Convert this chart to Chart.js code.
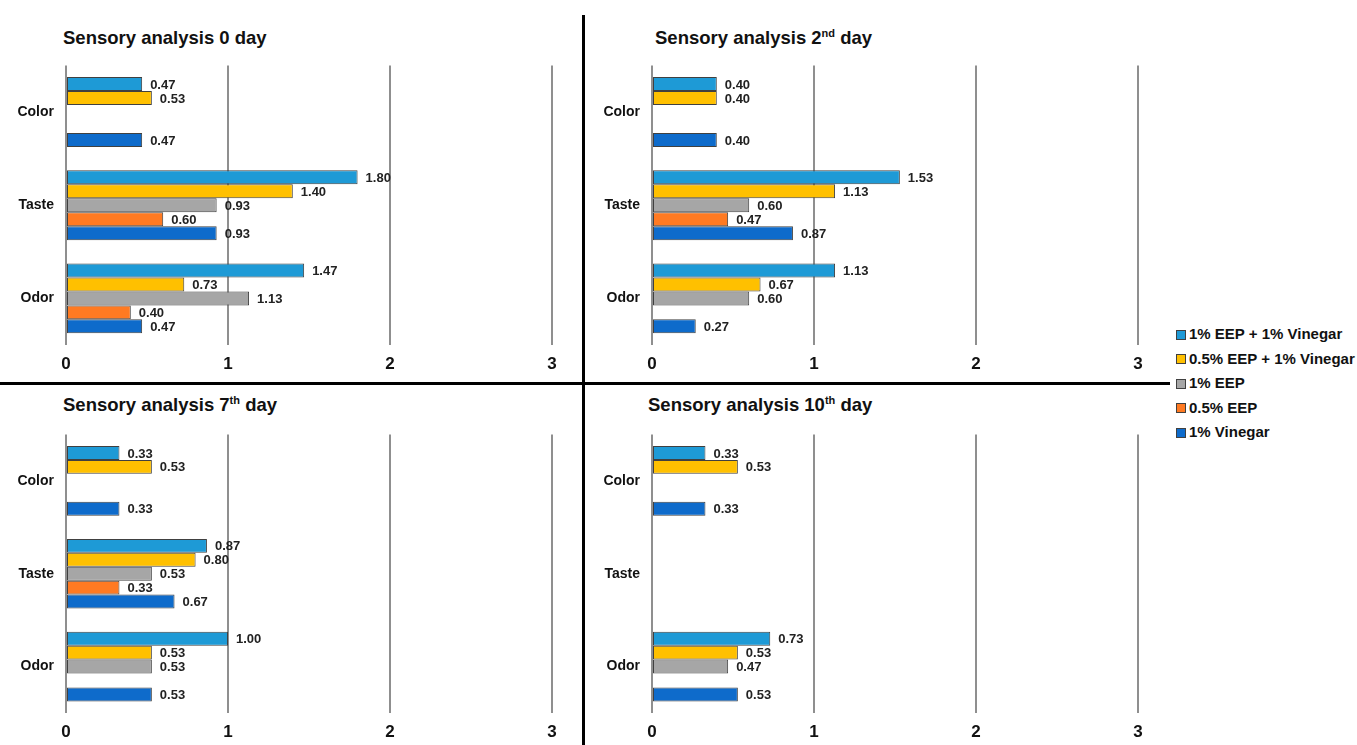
<!DOCTYPE html>
<html>
<head>
<meta charset="utf-8">
<script src="https://cdn.jsdelivr.net/npm/chart.js@4.4.1/dist/chart.umd.min.js"></script>
<style>
    body { margin: 0; width: 1357px; height: 745px; background: #fff; position: relative; overflow: hidden;
           font-family: "Liberation Sans", Arial, sans-serif; }
    .box { position: absolute; width: 575px; }
    .title { position: absolute; font-weight: bold; font-size: 18.5px; color: #111; white-space: nowrap; }
    .title sup { font-size: 11px; vertical-align: 7px; line-height: 0; }
    .vline { position: absolute; left: 582px; top: 15px; width: 3px; height: 730px; background: #000; }
    .hline { position: absolute; left: 0; top: 382px; width: 1170px; height: 3px; background: #000; }
    #legend { position: absolute; left: 1176px; top: 322px; }
    .item { height: 24.5px; line-height: 24.5px; font-weight: bold; font-size: 15px; color: #111; white-space: nowrap; }
    .sw { display: inline-block; width: 8px; height: 8px; border: 1px solid #404040; margin-right: 3px; vertical-align: -0.5px; }
</style>
</head>
<body>
<div class="vline"></div>
<div class="hline"></div>

<div class="title" style="left:63px; top:27px;">Sensory analysis 0 day</div>
<div class="title" style="left:655px; top:27px;">Sensory analysis 2<sup>nd</sup> day</div>
<div class="title" style="left:63px; top:394px;">Sensory analysis 7<sup>th</sup> day</div>
<div class="title" style="left:648px; top:394px;">Sensory analysis 10<sup>th</sup> day</div>

<div class="box" style="left:0; top:45px; height:335px;"><canvas id="day0"></canvas></div>
<div class="box" style="left:586px; top:45px; height:335px;"><canvas id="day2"></canvas></div>
<div class="box" style="left:0; top:414px; height:334px;"><canvas id="day7"></canvas></div>
<div class="box" style="left:586px; top:414px; height:334px;"><canvas id="day10"></canvas></div>

<div id="legend"></div>

<script>
// Attributes on the y axis, top to bottom
const categories = ['Color', 'Taste', 'Odor'];
const seriesNames = ['1% EEP + 1% Vinegar', '0.5% EEP + 1% Vinegar', '1% EEP', '0.5% EEP', '1% Vinegar'];
const seriesColors = ['#1e9ad6', '#ffc000', '#a6a6a6', '#ff7a22', '#0e6bcb'];
const xTicks = [0, 1, 2, 3];

// values per series: [Color, Taste, Odor]
const day0Mix1 = [0.47, 1.80, 1.47];
const day0Mix05 = [0.53, 1.40, 0.73];
const day0Eep1 = [null, 0.93, 1.13];
const day0Eep05 = [null, 0.60, 0.40];
const day0Vinegar = [0.47, 0.93, 0.47];

const day2Mix1 = [0.40, 1.53, 1.13];
const day2Mix05 = [0.40, 1.13, 0.67];
const day2Eep1 = [null, 0.60, 0.60];
const day2Eep05 = [null, 0.47, null];
const day2Vinegar = [0.40, 0.87, 0.27];

const day7Mix1 = [0.33, 0.87, 1.00];
const day7Mix05 = [0.53, 0.80, 0.53];
const day7Eep1 = [null, 0.53, 0.53];
const day7Eep05 = [null, 0.33, null];
const day7Vinegar = [0.33, 0.67, 0.53];

const day10Mix1 = [0.33, null, 0.73];
const day10Mix05 = [0.53, null, 0.53];
const day10Eep1 = [null, null, 0.47];
const day10Eep05 = [null, null, null];
const day10Vinegar = [0.33, null, 0.53];

const FONT = '"Liberation Sans", Arial, sans-serif';

// draws the value next to the end of each bar
const valueLabels = {
    id: 'valueLabels',
    afterDatasetsDraw(chart) {
        const ctx = chart.ctx;
        ctx.save();
        ctx.font = 'bold 13px ' + FONT;
        ctx.fillStyle = '#222';
        ctx.textAlign = 'left';
        ctx.textBaseline = 'middle';
        chart.data.datasets.forEach((ds, i) => {
            const meta = chart.getDatasetMeta(i);
            meta.data.forEach((bar, j) => {
                const v = ds.data[j];
                if (v === null || v === undefined) return;
                ctx.fillText(v.toFixed(2), bar.x + 8, bar.y + 1);
            });
        });
        ctx.restore();
    }
};

function makeChart(id, seriesData) {
    const ctx = document.getElementById(id).getContext('2d');
    return new Chart(ctx, {
        type: 'bar',
        data: {
            labels: categories,
            datasets: seriesData.map((data, i) => ({
                label: seriesNames[i],
                data: data,
                backgroundColor: seriesColors[i],
                borderColor: '#404040',
                borderWidth: 1,
                borderSkipped: false,
                barPercentage: 1,
                categoryPercentage: 0.75
            }))
        },
        options: {
            indexAxis: 'y',
            responsive: true,
            maintainAspectRatio: false,
            animation: false,
            layout: { padding: { left: 0, right: 23, top: 7, bottom: 5 } },
            plugins: {
                legend: { display: false },
                tooltip: { enabled: false }
            },
            scales: {
                x: {
                    min: 0,
                    max: 3,
                    afterBuildTicks: (scale) => { scale.ticks = xTicks.map(v => ({ value: v })); },
                    afterFit: (scale) => { scale.height = 30; },
                    grid: { color: '#8f8f8f', lineWidth: 2, drawTicks: false },
                    border: { display: false },
                    ticks: {
                        padding: 9,
                        color: '#111',
                        font: { family: FONT, size: 17, weight: 'bold' }
                    }
                },
                y: {
                    afterFit: (scale) => { scale.width = 66; },
                    grid: { display: false, drawTicks: false },
                    border: { display: false },
                    ticks: {
                        padding: 12,
                        color: '#111',
                        font: { family: FONT, size: 14, weight: 'bold' }
                    }
                }
            }
        },
        plugins: [valueLabels]
    });
}

makeChart('day0', [day0Mix1, day0Mix05, day0Eep1, day0Eep05, day0Vinegar]);
makeChart('day2', [day2Mix1, day2Mix05, day2Eep1, day2Eep05, day2Vinegar]);
makeChart('day7', [day7Mix1, day7Mix05, day7Eep1, day7Eep05, day7Vinegar]);
makeChart('day10', [day10Mix1, day10Mix05, day10Eep1, day10Eep05, day10Vinegar]);

// shared legend
const legend = document.getElementById('legend');
seriesNames.forEach((name, i) => {
    const row = document.createElement('div');
    row.className = 'item';
    const sw = document.createElement('span');
    sw.className = 'sw';
    sw.style.background = seriesColors[i];
    row.appendChild(sw);
    row.appendChild(document.createTextNode(name));
    legend.appendChild(row);
});
</script>
</body>
</html>
